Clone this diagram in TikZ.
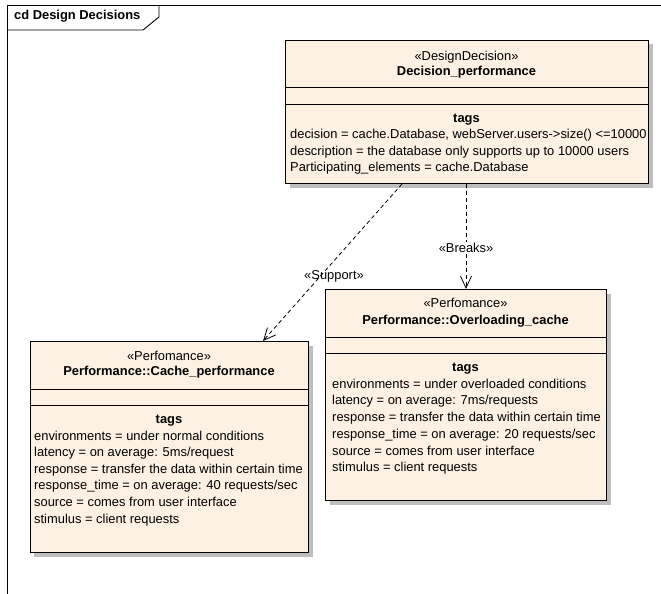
\documentclass[tikz,border=0pt]{standalone}
\usepackage{fontspec}
\setmainfont{Liberation Sans}
\usetikzlibrary{arrows.meta,shadows}
\definecolor{boxfill}{RGB}{252,241,226}
\definecolor{shadowc}{RGB}{190,190,190}
\begin{document}
\begin{tikzpicture}[x=1pt,y=-1pt,
  font=\fontsize{12.9}{15}\selectfont,
  umlbox/.style={draw=black, line width=1pt, fill=boxfill, rectangle, inner sep=0pt,
    anchor=north west,
    drop shadow={shadow xshift=4pt, shadow yshift=-4pt, fill=shadowc, opacity=1}},
  divider/.style={line width=1pt},
  ctext/.style={inner sep=0pt, anchor=mid},
  ltext/.style={inner sep=0pt, anchor=mid west},
  btext/.style={inner sep=0pt, anchor=mid, font=\fontsize{12.9}{15}\selectfont\bfseries},
  dep/.style={dashed, dash pattern=on 4pt off 3pt, line width=0.8pt,
    -{Straight Barb[length=12pt,width=11pt,line width=0.8pt]}},
  lbl/.style={inner sep=1pt, anchor=mid}]
\useasboundingbox (0,0) rectangle (661,594);
% frame
\draw[line width=0.9pt] (7,600) -- (7,5) -- (670,5);
\draw[line width=0.9pt] (7,30) -- (143,30) -- (159,17) -- (159,5);
\node[inner sep=0pt, anchor=mid west, font=\fontsize{12.9}{15}\selectfont\bfseries] (title) at (14,17) {cd Design Decisions};

% Decision box
\node[umlbox, minimum width=363pt, minimum height=143pt] (dec) at (285,40) {};
\draw[divider] (dec.west |- 0,87) -- (dec.east |- 0,87);
\draw[divider] (dec.west |- 0,104) -- (dec.east |- 0,104);
\node[ctext] (decst) at (466.5,58) {«DesignDecision»};
\node[btext] (decnm) at (466.5,73) {Decision\_performance};
\node[btext] (dectg) at (466.5,120) {tags};
\node[ltext] (decl1) at (290,136) {decision = cache.Database, webServer.users->size() <=10000};
\node[ltext] (decl2) at (290,152.5) {description = the database only supports up to 10000 users};
\node[ltext] (decl3) at (290,169) {Participating\_elements = cache.Database};

% Cache box
\node[umlbox, minimum width=278.5pt, minimum height=211pt] (cache) at (29.5,341) {};
\draw[divider] (cache.west |- 0,389) -- (cache.east |- 0,389);
\draw[divider] (cache.west |- 0,405) -- (cache.east |- 0,405);
\node[ctext] (cachest) at (169,358) {«Perfomance»};
\node[btext] (cachenm) at (169,373) {Performance::Cache\_performance};
\node[btext] (cachetg) at (169,421) {tags};
\node[ltext] (cachel1) at (34,437.5) {environments = under normal conditions};
\node[ltext] (cachel2) at (34,454) {latency = on average: 5ms/request};
\node[ltext] (cachel3) at (34,470.5) {response = transfer the data within certain time};
\node[ltext] (cachel4) at (34,487) {response\_time = on average: 40 requests/sec};
\node[ltext] (cachel5) at (34,504) {source = comes from user interface};
\node[ltext] (cachel6) at (34,521) {stimulus = client requests};

% Overloading box
\node[umlbox, minimum width=281pt, minimum height=211pt] (over) at (325,289) {};
\draw[divider] (over.west |- 0,337) -- (over.east |- 0,337);
\draw[divider] (over.west |- 0,353) -- (over.east |- 0,353);
\node[ctext] (overst) at (465.5,305) {«Perfomance»};
\node[btext] (overnm) at (465.5,322) {Performance::Overloading\_cache};
\node[btext] (overtg) at (465.5,369) {tags};
\node[ltext] (overl1) at (332,386) {environments = under overloaded conditions};
\node[ltext] (overl2) at (332,402) {latency = on average: 7ms/requests};
\node[ltext] (overl3) at (332,419) {response = transfer the data within certain time};
\node[ltext] (overl4) at (332,435.5) {response\_time = on average: 20 requests/sec};
\node[ltext] (overl5) at (332,452.5) {source = comes from user interface};
\node[ltext] (overl6) at (332,469) {stimulus = client requests};

% connectors
\draw[dep] (dec.south -| 402,0) -- (cache.north -| 263,0);
\draw[dep] (dec.south -| 466,0) -- (over.north -| 466,0);
\node[lbl, fill=white] (brk) at (466,250) {«Breaks»};
\node[lbl] (sup) at (334,277) {«Support»};
\end{tikzpicture}
\end{document}
